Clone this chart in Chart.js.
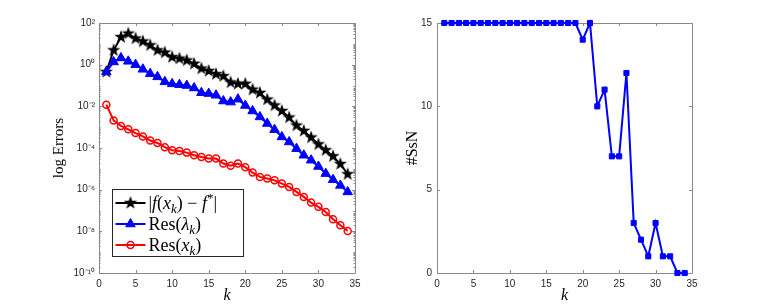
<!DOCTYPE html>
<html>
<head>
<meta charset="utf-8">
<script src="https://cdn.jsdelivr.net/npm/chart.js@4.4.0/dist/chart.umd.min.js"></script>
<style>
  body { margin: 0; background: #fff; }
  #wrap { position: relative; width: 766px; height: 307px; }
  canvas { position: absolute; top: 0; }
</style>
</head>
<body>
<div id="wrap">
  <canvas id="errChart" width="383" height="307" style="left:0"></canvas>
  <canvas id="ssnChart" width="383" height="307" style="left:383px"></canvas>
</div>
<script>
// iterations
var k = [1, 2, 3, 4, 5, 6, 7, 8, 9, 10, 11, 12, 13, 14, 15, 16, 17,
         18, 19, 20, 21, 22, 23, 24, 25, 26, 27, 28, 29, 30, 31, 32, 33, 34];

// left panel, |f(x_k) - f*|
var fGap = [0.45, 4.9, 21, 31, 18, 13, 8.5, 4.9, 3.8, 2.3, 1.95, 1.6, 1.1, 0.65, 0.5,
            0.35, 0.28, 0.14, 0.12, 0.12, 0.063, 0.044, 0.021, 0.011, 6.0e-3,
            2.9e-3, 1.2e-3, 6.6e-4, 3.2e-4, 1.5e-4, 7.8e-5, 4.0e-5, 1.7e-5, 5.5e-6];
// Res(lambda_k)
var resLambda = [0.45, 1.35, 2.1, 1.45, 1.0, 0.6, 0.37, 0.26, 0.15, 0.12, 0.11, 0.1, 0.076,
                 0.045, 0.041, 0.034, 0.018, 0.016, 0.022, 0.011, 6.0e-3, 3.1e-3, 1.5e-3,
                 7.6e-4, 3.4e-4, 1.95e-4, 9.3e-5, 4.5e-5, 2.6e-5, 1.3e-5, 5.9e-6, 3.0e-6,
                 1.6e-6, 7.8e-7];
// Res(x_k)
var resX = [1.2e-2, 2.1e-3, 1.15e-3, 7.9e-4, 5.2e-4, 3.6e-4, 2.3e-4, 1.75e-4, 1.1e-4, 7.8e-5,
            7.2e-5, 6.0e-5, 4.5e-5, 3.7e-5, 3.1e-5, 3.1e-5, 1.8e-5, 1.4e-5, 1.8e-5, 1.2e-5,
            6.6e-6, 4.1e-6, 3.4e-6, 2.8e-6, 1.95e-6, 1.35e-6, 7.8e-7, 4.5e-7, 2.4e-7, 1.5e-7,
            8.5e-8, 3.8e-8, 1.95e-8, 1.05e-8];

// right panel, #SsN
var ssn = [15, 15, 15, 15, 15, 15, 15, 15, 15, 15, 15, 15, 15, 15, 15, 15, 15, 15, 15,
           14, 15, 10, 11, 7, 7, 12, 3, 2, 1, 3, 1, 1, 0, 0];

var errTicks = [1e-10, 1e-8, 1e-6, 1e-4, 1e-2, 1, 1e2];
var errTickLabels = ['10\u207B\u00B9\u2070', '10\u207B\u2078', '10\u207B\u2076', '10\u207B\u2074',
                     '10\u207B\u00B2', '10\u2070', '10\u00B2'];

var legendLabels = [
  [['|', 'r'], ['f', 'i'], ['(', 'r'], ['x', 'i'], ['k', 'sub'], [') \u2212 ', 'r'], ['f', 'i'], ['*', 'sup'], ['|', 'r']],
  [['Res(', 'r'], ['\u03BB', 'i'], ['k', 'sub'], [')', 'r']],
  [['Res(', 'r'], ['x', 'i'], ['k', 'sub'], [')', 'r']]
];

function pts(ys) {
  return k.map(function (x, i) { return {x: x, y: ys[i]}; });
}

// filled pentagram marker
function makeStar(r, color) {
  var c = document.createElement('canvas');
  var s = Math.ceil(r * 2 + 2);
  c.width = s; c.height = s;
  var g = c.getContext('2d');
  g.beginPath();
  for (var i = 0; i < 10; i++) {
    var rr = i % 2 ? r * 0.4 : r;
    var a = -Math.PI / 2 + i * Math.PI / 5;
    g.lineTo(s / 2 + rr * Math.cos(a), s / 2 + rr * Math.sin(a));
  }
  g.closePath();
  g.fillStyle = color;
  g.fill();
  return c;
}
var star = makeStar(7, '#000');

var tickFont = {family: '"Liberation Sans", Arial, sans-serif', size: 10};
var tickColor = '#262626';
var serif = '"Liberation Serif", "Times New Roman", serif';

// box + inward ticks like matlab
var boxPlugin = {
  id: 'matlabBox',
  beforeDatasetsDraw: function (chart, args, opts) {
    var a = chart.chartArea, ctx = chart.ctx;
    var xs = chart.scales.x, ys = chart.scales.y;
    ctx.save();
    ctx.strokeStyle = '#8a8a8a';
    ctx.lineWidth = 1;
    ctx.beginPath();
    ctx.rect(Math.round(a.left) + 0.5, Math.round(a.top) + 0.5,
             Math.round(a.right - a.left), Math.round(a.bottom - a.top));
    xs.ticks.forEach(function (t) {
      var px = Math.round(xs.getPixelForValue(t.value)) + 0.5;
      ctx.moveTo(px, a.bottom); ctx.lineTo(px, a.bottom - 3);
      ctx.moveTo(px, a.top); ctx.lineTo(px, a.top + 3);
    });
    ys.ticks.forEach(function (t) {
      var py = Math.round(ys.getPixelForValue(t.value)) + 0.5;
      ctx.moveTo(a.left, py); ctx.lineTo(a.left + 3, py);
      ctx.moveTo(a.right, py); ctx.lineTo(a.right - 3, py);
    });
    (opts.minor || []).forEach(function (v) {
      var py = Math.round(ys.getPixelForValue(v)) + 0.5;
      ctx.moveTo(a.left, py); ctx.lineTo(a.left + 1.5, py);
      ctx.moveTo(a.right, py); ctx.lineTo(a.right - 1.5, py);
    });
    ctx.stroke();
    ctx.restore();
  }
};

function drawRich(ctx, parts, x, y) {
  parts.forEach(function (p) {
    var st = p[1];
    var size = (st === 'sub' || st === 'sup') ? 13 : 18;
    var it = st === 'i' || st === 'sub';
    ctx.font = (it ? 'italic ' : '') + size + 'px ' + serif;
    var dy = st === 'sub' ? 4 : (st === 'sup' ? -7 : 0);
    ctx.fillText(p[0], x, y + dy);
    x += ctx.measureText(p[0]).width;
  });
}

// legend box in the lower left of the chart area
var legendPlugin = {
  id: 'mathLegend',
  afterDatasetsDraw: function (chart) {
    var a = chart.chartArea, ctx = chart.ctx;
    var bx = a.left + 13.5, by = a.top + 166.5, bw = 131, bh = 67;
    ctx.save();
    ctx.fillStyle = '#fff';
    ctx.fillRect(bx, by, bw, bh);
    ctx.strokeStyle = '#262626';
    ctx.lineWidth = 1;
    ctx.strokeRect(bx, by, bw, bh);
    chart.data.datasets.forEach(function (ds, i) {
      var cy = by + 13.5 + i * 21;
      ctx.strokeStyle = ds.borderColor;
      ctx.lineWidth = 2;
      ctx.beginPath();
      ctx.moveTo(bx + 3, cy); ctx.lineTo(bx + 33, cy);
      ctx.stroke();
      ctx.fillStyle = ds.pointBackgroundColor;
      ctx.strokeStyle = ds.borderColor;
      ctx.lineWidth = ds.pointBorderWidth;
      Chart.helpers.drawPoint(ctx, {
        pointStyle: ds.pointStyle, radius: ds.pointRadius, rotation: 0,
        borderWidth: ds.pointBorderWidth
      }, bx + 18, cy);
      ctx.fillStyle = '#000';
      ctx.textBaseline = 'alphabetic';
      drawRich(ctx, legendLabels[i], bx + 36, cy + 6);
    });
    ctx.restore();
  }
};

// minor ticks for the log axis
var minorTicks = [];
for (var e = -10; e < 2; e++) {
  for (var m = 1; m < 10; m++) {
    if (m === 1 && e % 2 === 0) continue;
    minorTicks.push(m * Math.pow(10, e));
  }
}

new Chart(document.getElementById('errChart'), {
  type: 'line',
  data: {
    datasets: [
      {data: pts(fGap), borderColor: '#000', borderWidth: 2, pointStyle: star, clip: false,
       pointRadius: 7, pointBackgroundColor: '#000', pointBorderWidth: 0, order: 3},
      {data: pts(resLambda), borderColor: '#0000ff', borderWidth: 2, pointStyle: 'triangle', clip: false,
       pointRadius: 5.5, pointBackgroundColor: '#0000ff', pointBorderWidth: 1, order: 2},
      {data: pts(resX), borderColor: '#ff0000', borderWidth: 2, pointStyle: 'circle', clip: false,
       pointRadius: 3.5, pointBackgroundColor: 'rgba(0,0,0,0)', pointBorderWidth: 1.5, order: 1}
    ]
  },
  options: {
    responsive: false,
    animation: false,
    devicePixelRatio: 1,
    layout: {padding: {left: 44, right: 28, top: 23, bottom: 0}},
    plugins: {legend: {display: false}, tooltip: {enabled: false}, matlabBox: {minor: minorTicks}},
    scales: {
      x: {
        type: 'linear', min: 0, max: 35,
        grid: {display: false, drawTicks: false}, border: {display: false},
        ticks: {stepSize: 5, font: tickFont, color: tickColor, padding: 5, maxRotation: 0},
        title: {display: true, text: 'k', font: {family: serif, size: 16, style: 'italic'},
                color: '#000', padding: {top: 0, bottom: 2}},
        afterFit: function (s) { s.height = 34; }
      },
      y: {
        type: 'logarithmic', min: 1e-10, max: 1e2,
        grid: {display: false, drawTicks: false}, border: {display: false},
        afterBuildTicks: function (s) { s.ticks = errTicks.map(function (v) { return {value: v}; }); },
        ticks: {
          font: tickFont, color: tickColor, padding: 4,
          callback: function (v) { return errTickLabels[errTicks.indexOf(v)]; }
        },
        title: {display: true, text: 'log Errors', font: {family: serif, size: 15},
                color: '#000', padding: {top: 6, bottom: 0}},
        afterFit: function (s) { s.width = 55; }
      }
    }
  },
  plugins: [boxPlugin, legendPlugin]
});

new Chart(document.getElementById('ssnChart'), {
  type: 'line',
  data: {
    datasets: [
      {data: pts(ssn), borderColor: '#0000ff', borderWidth: 2, pointStyle: 'rect', clip: false,
       pointRadius: 3.6, pointBackgroundColor: '#0000ff', pointBorderWidth: 1}
    ]
  },
  options: {
    responsive: false,
    animation: false,
    devicePixelRatio: 1,
    layout: {padding: {left: 14, right: 74, top: 23, bottom: 0}},
    plugins: {legend: {display: false}, tooltip: {enabled: false}, matlabBox: {}},
    scales: {
      x: {
        type: 'linear', min: 0, max: 35,
        grid: {display: false, drawTicks: false}, border: {display: false},
        ticks: {stepSize: 5, font: tickFont, color: tickColor, padding: 5, maxRotation: 0},
        title: {display: true, text: 'k', font: {family: serif, size: 16, style: 'italic'},
                color: '#000', padding: {top: 0, bottom: 2}},
        afterFit: function (s) { s.height = 34; }
      },
      y: {
        type: 'linear', min: 0, max: 15,
        grid: {display: false, drawTicks: false}, border: {display: false},
        ticks: {stepSize: 5, font: tickFont, color: tickColor, padding: 5},
        title: {display: true, text: '#SsN', font: {family: serif, size: 16},
                color: '#000', padding: {top: 6, bottom: 0}},
        afterFit: function (s) { s.width = 40; }
      }
    }
  },
  plugins: [boxPlugin]
});
</script>
</body>
</html>
